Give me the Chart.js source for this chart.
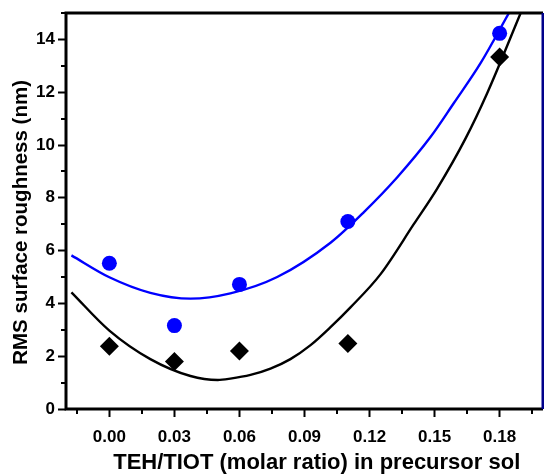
<!DOCTYPE html>
<html>
<head>
<meta charset="utf-8">
<script src="https://cdn.jsdelivr.net/npm/chart.js@4/dist/chart.umd.min.js"></script>
<style>
  html, body { margin: 0; padding: 0; background: #ffffff; }
  #wrap { width: 544px; height: 474px; position: relative; }
</style>
</head>
<body>
<div id="wrap"><canvas id="c" width="544" height="474"></canvas></div>
<script>
// ---- data ----
const sampleX = [0.00, 0.03, 0.06, 0.11, 0.18];
const blueValues = [5.52, 3.16, 4.72, 7.10, 14.23];
const blackValues = [2.38, 1.80, 2.20, 2.48, 13.33];

const blueFitX = [-0.0175, 0.000, 0.0189, 0.0374, 0.0558, 0.0774, 0.102, 0.1174, 0.1328, 0.1481, 0.1589, 0.1712, 0.1843];
const blueFitY = [5.82, 4.99, 4.40, 4.18, 4.38, 5.00, 6.30, 7.46, 8.78, 10.30, 11.59, 13.10, 15.00];

const blackFitX = [-0.0175, 0.000, 0.0189, 0.0374, 0.050, 0.0558, 0.0651, 0.0743, 0.0835, 0.0928, 0.102, 0.1112, 0.125, 0.1404, 0.1512, 0.1643, 0.1743, 0.1897];
const blackFitY = [4.42, 2.97, 1.89, 1.25, 1.10, 1.15, 1.29, 1.53, 1.89, 2.42, 3.10, 3.85, 5.10, 7.00, 8.35, 10.25, 11.97, 15.00];

const xTicks = [0.00, 0.03, 0.06, 0.09, 0.12, 0.15, 0.18];
const xMinorTicks = [-0.015, 0.015, 0.045, 0.075, 0.105, 0.135, 0.165, 0.195];
const yTicks = [0, 2, 4, 6, 8, 10, 12, 14];
const yMinorTicks = [1, 3, 5, 7, 9, 11, 13, 15];

const xTitle = 'TEH/TIOT (molar ratio) in precursor sol';
const yTitle = 'RMS surface roughness (nm)';

// ---- build chart ----
const toPts = (xs, ys) => xs.map((x, i) => ({ x: x, y: ys[i] }));
const FONT = "'Liberation Sans', Arial, sans-serif";

const framePlugin = {
  id: 'frameAndMinor',
  afterDraw(chart) {
    const ctx = chart.ctx;
    const a = chart.chartArea;
    const xs = chart.scales.x, ys = chart.scales.y;
    ctx.save();
    ctx.strokeStyle = '#000';
    // minor ticks
    ctx.lineWidth = 2;
    ctx.beginPath();
    xMinorTicks.forEach(v => {
      const px = Math.round(xs.getPixelForValue(v));
      ctx.moveTo(px, a.bottom);
      ctx.lineTo(px, a.bottom + 5);
    });
    yMinorTicks.forEach(v => {
      const py = Math.round(ys.getPixelForValue(v));
      ctx.moveTo(a.left, py);
      ctx.lineTo(a.left - 5, py);
    });
    ctx.stroke();
    // frame
    ctx.lineWidth = 3;
    ctx.beginPath();
    ctx.moveTo(a.left, a.bottom);
    ctx.lineTo(a.left, a.top);
    ctx.lineTo(a.right, a.top);
    ctx.moveTo(a.left - 1.5, a.bottom);
    ctx.lineTo(a.right, a.bottom);
    ctx.stroke();
    ctx.strokeStyle = '#00008b';
    ctx.beginPath();
    ctx.moveTo(a.right, a.top);
    ctx.lineTo(a.right, a.bottom);
    ctx.stroke();
    ctx.restore();
  }
};

new Chart(document.getElementById('c'), {
  type: 'scatter',
  data: {
    datasets: [
      {
        label: 'blue points',
        data: toPts(sampleX, blueValues),
        pointStyle: 'circle',
        pointRadius: 7.5,
        pointHoverRadius: 7.5,
        backgroundColor: '#0000ff',
        borderColor: '#0000ff',
        borderWidth: 0,
        order: 0
      },
      {
        label: 'black points',
        data: toPts(sampleX, blackValues),
        pointStyle: 'rectRot',
        pointRadius: 9.5,
        pointHoverRadius: 9.5,
        backgroundColor: '#000000',
        borderColor: '#000000',
        borderWidth: 0,
        order: 0
      },
      {
        label: 'blue fit',
        data: toPts(blueFitX, blueFitY),
        showLine: true,
        pointRadius: 0,
        borderColor: '#0000ff',
        borderWidth: 2.4,
        cubicInterpolationMode: 'monotone',
        fill: false,
        order: 1
      },
      {
        label: 'black fit',
        data: toPts(blackFitX, blackFitY),
        showLine: true,
        pointRadius: 0,
        borderColor: '#000000',
        borderWidth: 2.4,
        cubicInterpolationMode: 'monotone',
        fill: false,
        order: 1
      }
    ]
  },
  options: {
    responsive: false,
    animation: false,
    events: [],
    layout: { autoPadding: false, padding: { left: 0, right: 1, top: 13, bottom: 0 } },
    plugins: {
      legend: { display: false },
      tooltip: { enabled: false },
      title: { display: false }
    },
    scales: {
      x: {
        type: 'linear',
        position: 'bottom',
        min: -0.02,
        max: 0.20,
        afterBuildTicks: s => { s.ticks = xTicks.map(v => ({ value: v })); },
        afterFit: s => { s.height = 65; s.paddingLeft = 0; s.paddingRight = 0; },
        border: { display: false },
        grid: { drawOnChartArea: false, drawTicks: true, tickLength: 8, tickWidth: 2, tickColor: '#000' },
        ticks: {
          color: '#000',
          padding: 10,
          maxRotation: 0,
          autoSkip: false,
          font: { family: FONT, size: 17, weight: 'bold' },
          callback: v => Number(v).toFixed(2)
        },
        title: {
          display: true,
          text: '    ' + xTitle,
          color: '#000',
          padding: { top: 0, bottom: 0 },
          font: { family: FONT, size: 22, weight: 'bold', lineHeight: 1 }
        }
      },
      y: {
        type: 'linear',
        position: 'left',
        min: 0,
        max: 15,
        afterBuildTicks: s => { s.ticks = yTicks.map(v => ({ value: v })); },
        afterFit: s => { s.width = 66; s.paddingTop = 0; s.paddingBottom = 0; },
        border: { display: false },
        grid: { drawOnChartArea: false, drawTicks: true, tickLength: 8, tickWidth: 2, tickColor: '#000' },
        ticks: {
          color: '#000',
          padding: 3,
          autoSkip: false,
          font: { family: FONT, size: 17, weight: 'bold' },
          callback: v => String(v)
        },
        title: {
          display: true,
          text: yTitle + '    ',
          color: '#000',
          padding: { top: 11, bottom: 0 },
          font: { family: FONT, size: 20.5, weight: 'bold', lineHeight: 1 }
        }
      }
    }
  },
  plugins: [framePlugin]
});
</script>
</body>
</html>
